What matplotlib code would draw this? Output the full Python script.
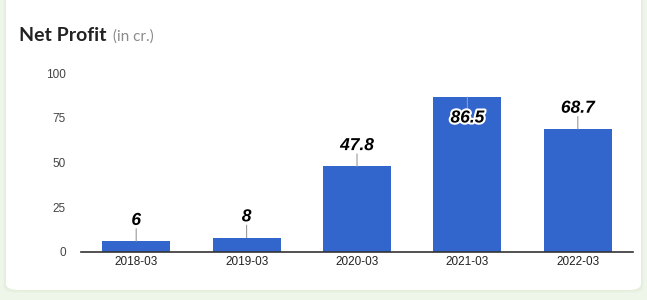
#!/usr/bin/env python3
# -*- coding: utf-8 -*-
"""
Net Profit bar chart (in cr.)
"""

import matplotlib
matplotlib.use('Agg')
import matplotlib.pyplot as plt
import matplotlib.patheffects as pe
from matplotlib.patches import FancyBboxPatch

##! Data:
years   = ['2018-03', '2019-03', '2020-03', '2021-03', '2022-03']
profit  = [6, 8, 47.8, 86.5, 68.7]
labels  = ['6', '8', '47.8', '86.5', '68.7']
yticks  = [0, 25, 50, 75, 100]

plt.rcParams['font.family'] = ['Liberation Sans', 'DejaVu Sans']

W, H = 647, 300
fig = plt.figure(figsize=(W/100., H/100.), dpi=100)
fig.patch.set_facecolor('#eef5e9')

#-- card background with soft shadow
for k, a in enumerate([0.25, 0.45, 0.7]):
    d = 3 - k
    sh = FancyBboxPatch((6/W - d/W, 10/H - d/H), (635 + 2*d)/W, (300 + d)/H,
                        boxstyle='round,pad=0,rounding_size=0.02',
                        transform=fig.transFigure, facecolor='#e2eedb',
                        edgecolor='none', alpha=a, zorder=0)
    fig.patches.append(sh)
card = FancyBboxPatch((6/W, 10/H), 635/W, 300/H,
                      boxstyle='round,pad=0,rounding_size=0.02',
                      transform=fig.transFigure, facecolor='white',
                      edgecolor='none', zorder=1)
fig.patches.append(card)

#-- title
fig.text(19/W, 1 - 41/H, 'Net Profit', fontsize=14, fontweight='bold',
         color='#222222', va='baseline', ha='left',
         family=['Lato', 'DejaVu Sans'], zorder=3)
fig.text(113/W, 1 - 41/H, '(in cr.)', fontsize=11, color='#8a8a8a',
         va='baseline', ha='left', family=['Lato', 'DejaVu Sans'], zorder=3)

#-- axes
ax = fig.add_axes([81/W, 1 - 252/H, (633 - 81)/W, (252 - 73)/H])
ax.set_facecolor('none')
ax.set_zorder(2)
x = list(range(len(years)))
ax.bar(x, profit, width=0.615, color='#3366cc', zorder=2)
ax.set_xlim(-0.5, len(years) - 0.5)
ax.set_ylim(0, 100)
ax.set_yticks(yticks)
ax.set_yticklabels([str(t) for t in yticks], fontsize=8.5, color='#444444')
ax.set_xticks(x)
ax.set_xticklabels(years, fontsize=8.5, color='#222222')
ax.tick_params(axis='both', length=0)
ax.tick_params(axis='y', pad=11)
ax.tick_params(axis='x', pad=3)
for s in ['top', 'right', 'left']:
    ax.spines[s].set_visible(False)
ax.spines['bottom'].set_color('#333333')
ax.spines['bottom'].set_linewidth(1.2)

#-- annotations with leader lines
halo = [pe.withStroke(linewidth=3, foreground='white')]
for xi, v, lab in zip(x, profit, labels):
    if v > 80:
        # label goes inside the bar
        ax.annotate('', xy=(xi, v), xytext=(0, -8), textcoords='offset points',
                    arrowprops=dict(arrowstyle='-', color='#999999', lw=0.8,
                                    shrinkA=0, shrinkB=0))
        ax.annotate(lab, xy=(xi, v), xytext=(0, -15), textcoords='offset points',
                    ha='center', va='center', fontsize=12.5, fontweight='bold',
                    fontstyle='italic', color='black', path_effects=halo, zorder=4)
    else:
        ax.annotate('', xy=(xi, v), xytext=(0, 9), textcoords='offset points',
                    arrowprops=dict(arrowstyle='-', color='#999999', lw=0.8,
                                    shrinkA=0, shrinkB=0))
        ax.annotate(lab, xy=(xi, v), xytext=(0, 15), textcoords='offset points',
                    ha='center', va='center', fontsize=12.5, fontweight='bold',
                    fontstyle='italic', color='black', path_effects=halo, zorder=4)

plt.savefig('out.png', dpi=100, facecolor=fig.get_facecolor())
plt.close()
